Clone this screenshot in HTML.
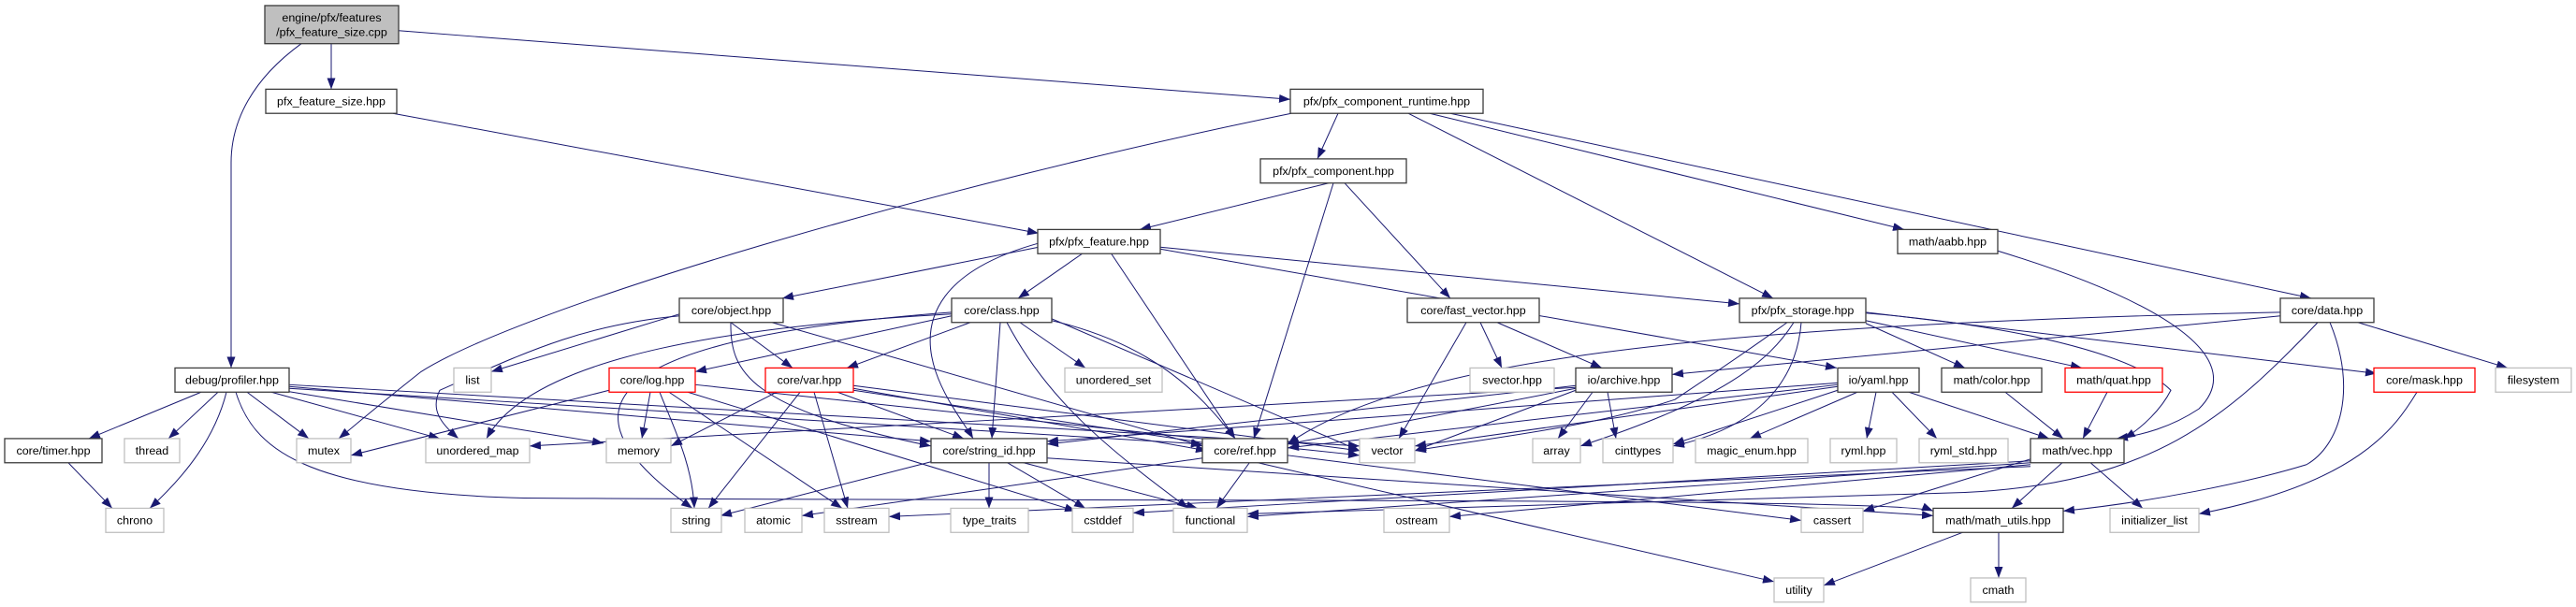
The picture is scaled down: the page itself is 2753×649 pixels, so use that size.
<!DOCTYPE html>
<html><head><meta charset="utf-8"><style>
html,body{margin:0;padding:0;background:#fff;}
svg{display:block;}
text{font-family:"Liberation Sans",Arial,sans-serif;font-size:12.5px;fill:#000;text-anchor:middle;}
.b{fill:#fff;stroke:#3c3c3c;stroke-width:1.3;}
.g{fill:#fff;stroke:#bfbfbf;stroke-width:1.3;}
.r{fill:#fff;stroke:#ff0000;stroke-width:1.3;}
path.e{fill:none;stroke:#191970;stroke-width:1;}
</style></head><body>
<svg width="2753" height="649" viewBox="0 0 2753 649" xmlns="http://www.w3.org/2000/svg">
<defs><marker id="a" viewBox="0 0 12 9" refX="12" refY="4.5" markerWidth="12" markerHeight="9" markerUnits="userSpaceOnUse" orient="auto"><path d="M0,0L12,4.5L0,9z" fill="#191970"/></marker></defs>
<g transform="scale(1,0.9935)">
<g marker-end="url(#a)">
<path class="e" d="M354,47L354,96"/>
<path class="e" d="M322,47C270,85 247,130 247,175L247,396"/>
<path class="e" d="M426,33L1379,107"/>
<path class="e" d="M420,122L1110,251"/>
<path class="e" d="M1430,122L1408,171"/>
<path class="e" d="M1505,122L1895,321"/>
<path class="e" d="M1528,122L2035,247"/>
<path class="e" d="M1550,122L2470,321"/>
<path class="e" d="M1380,122C1000,200 560,330 450,400Q400,440 362,472"/>
<path class="e" d="M1420,197L1218,247"/>
<path class="e" d="M1437,197L1550,321"/>
<path class="e" d="M1425,197L1340,472"/>
<path class="e" d="M1110,266L836,321"/>
<path class="e" d="M1158,272L1088,321"/>
<path class="e" d="M1109,262C1010,290 980,340 1000,400C1010,430 1030,455 1040,472"/>
<path class="e" d="M1187,272L1320,472"/>
<path class="e" d="M1240,266L1859,327"/>
<path class="e" d="M1240,268L1963,396"/>
<path class="e" d="M2135,270C2330,330 2400,390 2350,440C2320,460 2290,468 2262,472"/>
<path class="e" d="M726,338L525,400"/>
<path class="e" d="M726,340C620,350 560,380 470,420C460,440 470,455 490,472"/>
<path class="e" d="M781,347L847,396"/>
<path class="e" d="M781,347C780,400 800,440 995,480"/>
<path class="e" d="M825,347L1285,480"/>
<path class="e" d="M1017,340L743,400"/>
<path class="e" d="M1037,347L905,396"/>
<path class="e" d="M1090,347L1160,396"/>
<path class="e" d="M1069,347L1060,472"/>
<path class="e" d="M1076,347C1120,430 1180,480 1270,547"/>
<path class="e" d="M1124,345C1230,370 1280,420 1320,472"/>
<path class="e" d="M1124,343L1453,485"/>
<path class="e" d="M1017,338C800,350 570,380 520,472"/>
<path class="e" d="M1017,336C700,360 560,420 740,547"/>
<path class="e" d="M651,420L375,490"/>
<path class="e" d="M695,422L686,472"/>
<path class="e" d="M705,422C720,460 740,500 742,547"/>
<path class="e" d="M715,422L900,547"/>
<path class="e" d="M735,422L1150,550"/>
<path class="e" d="M743,414L1453,490"/>
<path class="e" d="M830,422L717,480"/>
<path class="e" d="M855,422L757,547"/>
<path class="e" d="M870,422L906,547"/>
<path class="e" d="M895,422L1030,472"/>
<path class="e" d="M912,418L1290,485"/>
<path class="e" d="M912,415L1453,485"/>
<path class="e" d="M912,420L1376,490"/>
<path class="e" d="M215,422L95,472"/>
<path class="e" d="M233,422L180,472"/>
<path class="e" d="M242,422C230,470 200,510 160,547"/>
<path class="e" d="M264,422L330,472"/>
<path class="e" d="M290,422L470,472"/>
<path class="e" d="M300,420L645,477"/>
<path class="e" d="M309,414L1453,480"/>
<path class="e" d="M309,416L995,475"/>
<path class="e" d="M309,418L1285,478"/>
<path class="e" d="M252,422C270,480 320,530 560,536C1200,540 2030,535 2066,550"/>
<path class="e" d="M72,497L120,547"/>
<path class="e" d="M1057,497L1057,547"/>
<path class="e" d="M1075,497L1160,547"/>
<path class="e" d="M1090,497L1280,547"/>
<path class="e" d="M995,497L770,555"/>
<path class="e" d="M1119,493L2066,555"/>
<path class="e" d="M1336,497L1300,547"/>
<path class="e" d="M1285,493L857,555"/>
<path class="e" d="M1340,497L1896,626"/>
<path class="e" d="M1376,490L1925,560"/>
<path class="e" d="M1567,347L1495,472"/>
<path class="e" d="M1582,347L1605,396"/>
<path class="e" d="M1600,347L1712,396"/>
<path class="e" d="M1910,347C1850,390 1820,410 1790,430C1700,460 1600,470 1512,485"/>
<path class="e" d="M1917,347C1890,390 1840,430 1689,480"/>
<path class="e" d="M1925,347C1920,410 1880,460 1788,480"/>
<path class="e" d="M1994,348L2100,396"/>
<path class="e" d="M1994,345L2225,396"/>
<path class="e" d="M1994,337C2150,350 2280,380 2320,420C2310,440 2290,460 2270,472"/>
<path class="e" d="M1994,336L2540,402"/>
<path class="e" d="M2437,340L1787,403"/>
<path class="e" d="M2437,336C1800,350 1500,390 1376,478"/>
<path class="e" d="M2490,347C2520,420 2500,480 2465,500C2400,520 2300,540 2205,550"/>
<path class="e" d="M2477,347C2380,450 2300,520 2100,530C1800,540 1500,550 1333,553"/>
<path class="e" d="M2520,347L2680,396"/>
<path class="e" d="M1684,420L1512,485"/>
<path class="e" d="M1702,422L1665,472"/>
<path class="e" d="M1718,422L1727,472"/>
<path class="e" d="M1684,415L1119,478"/>
<path class="e" d="M1684,418L1376,478"/>
<path class="e" d="M1684,417L566,480"/>
<path class="e" d="M1964,416L1512,480"/>
<path class="e" d="M1985,422L1870,472"/>
<path class="e" d="M2005,422L1995,472"/>
<path class="e" d="M2022,422L2070,472"/>
<path class="e" d="M2040,422L2190,472"/>
<path class="e" d="M1964,412L1119,475"/>
<path class="e" d="M1964,414L1376,482"/>
<path class="e" d="M1964,420L1788,478"/>
<path class="e" d="M2143,422L2205,472"/>
<path class="e" d="M2252,422L2226,472"/>
<path class="e" d="M2583,422C2560,460 2520,520 2350,553"/>
<path class="e" d="M2205,497L2150,547"/>
<path class="e" d="M2233,497L2290,547"/>
<path class="e" d="M2170,494L1991,550"/>
<path class="e" d="M2170,496L1211,552"/>
<path class="e" d="M2170,498L1333,556"/>
<path class="e" d="M2170,500L1549,556"/>
<path class="e" d="M2170,502L950,556"/>
<path class="e" d="M2136,572L2136,622"/>
<path class="e" d="M2100,572L1949,630"/>
</g>
<g>
<rect x="283" y="6" width="143" height="41" fill="#bfbfbf" stroke="#3c3c3c" stroke-width="1.3"/>
<text x="354.5" y="23">engine/pfx/features</text><text x="354.5" y="39">/pfx_feature_size.cpp</text>
<rect class="b" x="284" y="96" width="140" height="26"/><text x="354" y="113">pfx_feature_size.hpp</text>
<rect class="b" x="1379" y="96" width="206" height="26"/><text x="1482" y="113">pfx/pfx_component_runtime.hpp</text>
<rect class="b" x="1347" y="171" width="156" height="26"/><text x="1425" y="188">pfx/pfx_component.hpp</text>
<rect class="b" x="1109" y="247" width="131" height="26"/><text x="1174.5" y="264">pfx/pfx_feature.hpp</text>
<rect class="b" x="2028" y="247" width="107" height="26"/><text x="2081.5" y="264">math/aabb.hpp</text>
<rect class="b" x="726" y="321" width="111" height="26"/><text x="781.5" y="338">core/object.hpp</text>
<rect class="b" x="1017" y="321" width="107" height="26"/><text x="1070.5" y="338">core/class.hpp</text>
<rect class="b" x="1504" y="321" width="141" height="26"/><text x="1574.5" y="338">core/fast_vector.hpp</text>
<rect class="b" x="1859" y="321" width="135" height="26"/><text x="1926.5" y="338">pfx/pfx_storage.hpp</text>
<rect class="b" x="2437" y="321" width="100" height="26"/><text x="2487" y="338">core/data.hpp</text>
<rect class="b" x="187" y="396" width="122" height="26"/><text x="248" y="413">debug/profiler.hpp</text>
<rect class="g" x="485" y="396" width="40" height="26"/><text x="505" y="413">list</text>
<rect class="r" x="651" y="396" width="92" height="26"/><text x="697" y="413">core/log.hpp</text>
<rect class="r" x="818" y="396" width="94" height="26"/><text x="865" y="413">core/var.hpp</text>
<rect class="g" x="1138" y="396" width="104" height="26"/><text x="1190" y="413">unordered_set</text>
<rect class="g" x="1571" y="396" width="90" height="26"/><text x="1616" y="413">svector.hpp</text>
<rect class="b" x="1684" y="396" width="103" height="26"/><text x="1735.5" y="413">io/archive.hpp</text>
<rect class="b" x="1964" y="396" width="87" height="26"/><text x="2007.5" y="413">io/yaml.hpp</text>
<rect class="b" x="2075" y="396" width="107" height="26"/><text x="2128.5" y="413">math/color.hpp</text>
<rect class="r" x="2207" y="396" width="104" height="26"/><text x="2259" y="413">math/quat.hpp</text>
<rect class="r" x="2537" y="396" width="108" height="26"/><text x="2591" y="413">core/mask.hpp</text>
<rect class="g" x="2667" y="396" width="81" height="26"/><text x="2707.5" y="413">filesystem</text>
<rect class="b" x="5" y="472" width="104" height="26"/><text x="57" y="489">core/timer.hpp</text>
<rect class="g" x="133" y="472" width="59" height="26"/><text x="162.5" y="489">thread</text>
<rect class="g" x="317" y="472" width="58" height="26"/><text x="346" y="489">mutex</text>
<rect class="g" x="455" y="472" width="111" height="26"/><text x="510.5" y="489">unordered_map</text>
<rect class="g" x="648" y="472" width="69" height="26"/><text x="682.5" y="489">memory</text>
<rect class="b" x="995" y="472" width="124" height="26"/><text x="1057" y="489">core/string_id.hpp</text>
<rect class="b" x="1285" y="472" width="91" height="26"/><text x="1330.5" y="489">core/ref.hpp</text>
<rect class="g" x="1453" y="472" width="59" height="26"/><text x="1482.5" y="489">vector</text>
<rect class="g" x="1638" y="472" width="51" height="26"/><text x="1663.5" y="489">array</text>
<rect class="g" x="1713" y="472" width="75" height="26"/><text x="1750.5" y="489">cinttypes</text>
<rect class="g" x="1812" y="472" width="120" height="26"/><text x="1872" y="489">magic_enum.hpp</text>
<rect class="g" x="1956" y="472" width="71" height="26"/><text x="1991.5" y="489">ryml.hpp</text>
<rect class="g" x="2051" y="472" width="95" height="26"/><text x="2098.5" y="489">ryml_std.hpp</text>
<rect class="b" x="2170" y="472" width="100" height="26"/><text x="2220" y="489">math/vec.hpp</text>
<rect class="g" x="113" y="547" width="62" height="26"/><text x="144" y="564">chrono</text>
<rect class="g" x="717" y="547" width="54" height="26"/><text x="744" y="564">string</text>
<rect class="g" x="796" y="547" width="61" height="26"/><text x="826.5" y="564">atomic</text>
<rect class="g" x="881" y="547" width="69" height="26"/><text x="915.5" y="564">sstream</text>
<rect class="g" x="1016" y="547" width="83" height="26"/><text x="1057.5" y="564">type_traits</text>
<rect class="g" x="1146" y="547" width="65" height="26"/><text x="1178.5" y="564">cstddef</text>
<rect class="g" x="1254" y="547" width="79" height="26"/><text x="1293.5" y="564">functional</text>
<rect class="g" x="1479" y="547" width="70" height="26"/><text x="1514" y="564">ostream</text>
<rect class="g" x="1925" y="547" width="66" height="26"/><text x="1958" y="564">cassert</text>
<rect class="b" x="2066" y="547" width="139" height="26"/><text x="2135.5" y="564">math/math_utils.hpp</text>
<rect class="g" x="2255" y="547" width="95" height="26"/><text x="2302.5" y="564">initializer_list</text>
<rect class="g" x="1896" y="622" width="53" height="26"/><text x="1922.5" y="639">utility</text>
<rect class="g" x="2106" y="622" width="59" height="26"/><text x="2135.5" y="639">cmath</text>
</g>
</g>
</svg>
</body></html>
